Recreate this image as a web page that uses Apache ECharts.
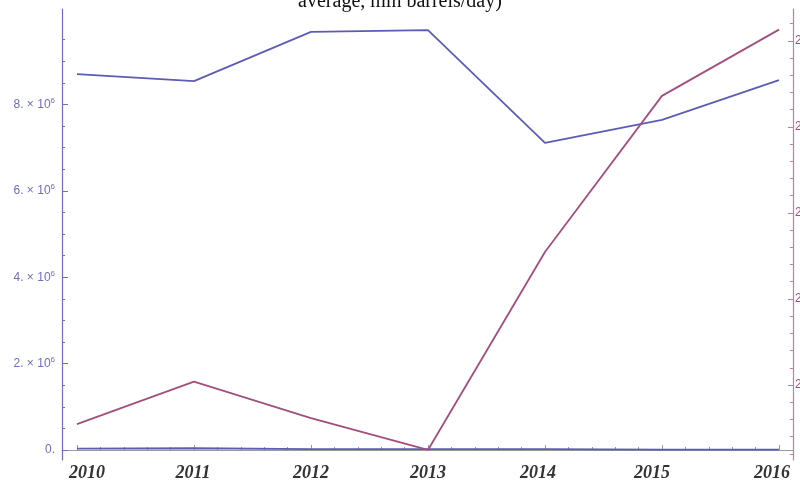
<!DOCTYPE html>
<html>
<head>
<meta charset="UTF-8">
<script src="https://cdn.jsdelivr.net/npm/echarts@6/dist/echarts.min.js"></script>
<style>body{margin:0;background:#fff}</style>
</head>
<body>
<div id="main" style="width:800px;height:487px;"></div>
<script>
// years on the x axis
var years = [2010, 2011, 2012, 2013, 2014, 2015, 2016];
// left axis series (barrels/day)
var bigSeries = [8.70e6, 8.54e6, 9.68e6, 9.72e6, 7.11e6, 7.64e6, 8.56e6];
var smallSeries = [0.03e6, 0.04e6, 0.02e6, 0.02e6, 0.02e6, 0.01e6, 0.01e6];
// right axis series
var rightSeries = [1.909, 2.008, 1.923, 1.849, 2.309, 2.672, 2.826];
// tick values
var leftTicks = [0, 2e6, 4e6, 6e6, 8e6];
var rightTicks = [2.0, 2.2, 2.4, 2.6, 2.8];

var BLUE = '#5c5cb4', PINK = '#a24f7e', BLUE_AX = '#6d6dc2', PINK_AX = '#c77aa2';

// the year labels in the picture sit a little off their ticks
var yearShift = { 2010: 10, 2011: -1, 2012: 0, 2013: 0, 2014: -7, 2015: -10, 2016: -7 };
var yearRich = {};
years.forEach(function (y) {
  var d = yearShift[y];
  yearRich['y' + y] = {
    fontFamily: 'Liberation Serif', fontStyle: 'italic', fontWeight: 'bold', fontSize: 18, color: '#333',
    padding: d >= 0 ? [0, 0, 0, 2 * d] : [0, -2 * d, 0, 0]
  };
});

function range(a, b, step) {
  var out = [];
  for (var v = a; v <= b + step / 1000; v += step) out.push(+v.toFixed(6));
  return out;
}
var leftMinor = range(0, 10e6, 0.5e6).filter(function (v) { return v % 2e6 !== 0; });
var rightMinor = range(1.84, 2.86, 0.04).filter(function (v) { return Math.abs(v * 5 - Math.round(v * 5)) > 1e-6; });
var xMinor = range(2009.8, 2016.2, 0.2).filter(function (v) { return v > 2009.872 && v < 2016.12 && Math.abs(v - Math.round(v)) > 1e-6; });

var LMIN = -0.2315e6, LMAX = 10.208e6;
var RMIN = 1.8256, RMAX = 2.874;
var XMIN = 2009.872, XMAX = 2016.12;

function pairs(vals) {
  return years.map(function (y, i) { return [y, vals[i]]; });
}

var chart = echarts.init(document.getElementById('main'));
chart.setOption({
  animation: false,
  title: {
    text: 'average, mln barrels/day)',
    left: 'center',
    top: -13,
    textStyle: { fontFamily: 'Liberation Serif', fontWeight: 'normal', fontSize: 20, color: '#111' }
  },
  grid: { left: 62, right: 7, top: 9, bottom: 27, outerBoundsMode: 'none', containLabel: false },
  xAxis: [
    {
      type: 'value', min: XMIN, max: XMAX,
      axisLine: { lineStyle: { color: '#9a9a9a', width: 1 } },
      axisTick: { inside: true, length: 5, customValues: years, lineStyle: { color: '#9a9a9a' } },
      axisLabel: {
        customValues: years, margin: 4,
        formatter: function (v) { return '{y' + v + '|' + v + '}'; },
        rich: yearRich
      },
      splitLine: { show: false }
    },
    {
      type: 'value', min: XMIN, max: XMAX, position: 'bottom',
      axisLine: { show: false },
      axisTick: { inside: true, length: 3, customValues: xMinor, lineStyle: { color: '#9a9a9a' } },
      axisLabel: { show: false },
      splitLine: { show: false }
    }
  ],
  yAxis: [
    {
      type: 'value', min: LMIN, max: LMAX, position: 'left',
      axisLine: { show: true, lineStyle: { color: BLUE_AX, width: 1.2 } },
      axisTick: { inside: true, length: 6, customValues: leftTicks, lineStyle: { color: BLUE_AX } },
      axisLabel: {
        customValues: leftTicks, margin: 7, color: BLUE_AX,
        formatter: function (v) {
          if (v === 0) return '{a|0.}';
          return '{a|' + (v / 1e6) + '. × 10}{s|6}';
        },
        rich: {
          a: { fontFamily: 'Liberation Sans', fontSize: 12, color: BLUE_AX },
          s: { fontFamily: 'Liberation Sans', fontSize: 8, color: BLUE_AX, padding: [0, 0, 7, 0] }
        }
      },
      splitLine: { show: false }
    },
    {
      type: 'value', min: RMIN, max: RMAX, position: 'right',
      axisLine: { show: true, lineStyle: { color: PINK_AX, width: 1.2 } },
      axisTick: { inside: true, length: 5, customValues: rightTicks, lineStyle: { color: PINK_AX } },
      axisLabel: {
        customValues: rightTicks, margin: 2, color: PINK,
        fontFamily: 'Liberation Sans', fontSize: 12,
        formatter: function (v) { return v.toFixed(1); }
      },
      splitLine: { show: false }
    },
    {
      type: 'value', min: LMIN, max: LMAX, position: 'left',
      axisLine: { show: false },
      axisTick: { inside: true, length: 3, customValues: leftMinor, lineStyle: { color: BLUE_AX } },
      axisLabel: { show: false },
      splitLine: { show: false }
    },
    {
      type: 'value', min: RMIN, max: RMAX, position: 'right',
      axisLine: { show: false },
      axisTick: { inside: true, length: 3, customValues: rightMinor, lineStyle: { color: PINK_AX } },
      axisLabel: { show: false },
      splitLine: { show: false }
    }
  ],
  series: [
    {
      type: 'line', xAxisIndex: 0, yAxisIndex: 0, data: pairs(bigSeries),
      showSymbol: false, lineStyle: { color: BLUE, width: 1.8 }
    },
    {
      type: 'line', xAxisIndex: 0, yAxisIndex: 0, data: pairs(smallSeries),
      showSymbol: false, lineStyle: { color: BLUE, width: 1.8 }
    },
    {
      type: 'line', xAxisIndex: 0, yAxisIndex: 1, data: pairs(rightSeries),
      showSymbol: false, lineStyle: { color: PINK, width: 1.8 }
    }
  ]
});
</script>
</body>
</html>
